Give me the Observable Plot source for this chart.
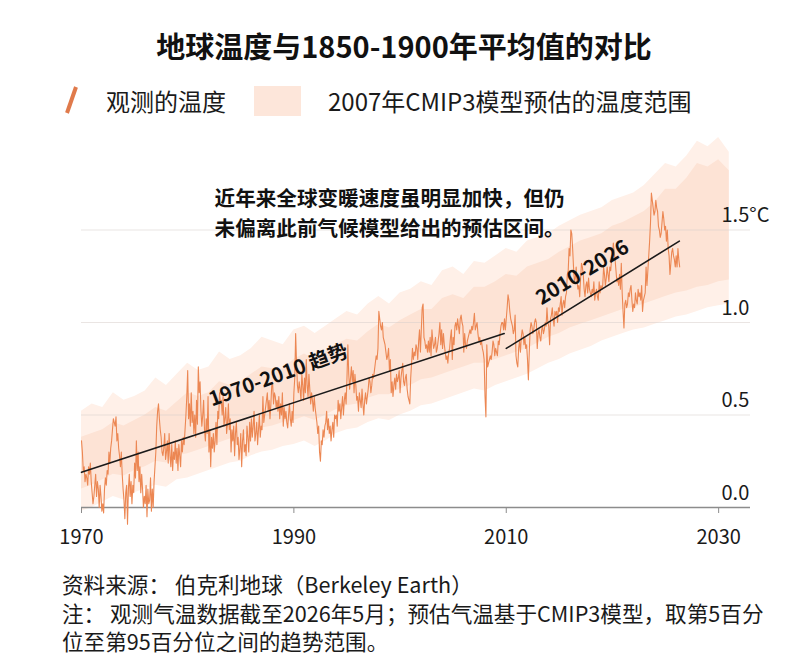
<!DOCTYPE html>
<html><head><meta charset="utf-8">
<script src="https://cdn.jsdelivr.net/npm/d3@7"></script>
<script src="https://cdn.jsdelivr.net/npm/@observablehq/plot@0.6"></script>
<style>
body{margin:0;background:#fff;font-family:"Noto Sans CJK SC","Noto Sans",sans-serif;color:#1a1a1a}
#wrap{position:relative;width:800px;height:672px;overflow:hidden;background:#fff}
#title{position:absolute;top:24px;left:0;width:808px;text-align:center;font-size:29px;font-weight:700;line-height:42px;color:#111}
.leg{position:absolute;font-size:24px;line-height:30px;top:86px;white-space:nowrap;color:#1a1a1a}
#sw{position:absolute;left:254px;top:86px;width:47px;height:30px;background:#fde6da}
#slash{position:absolute;left:62px;top:84px}
#chart{position:absolute;left:0;top:125px}
#cap{position:absolute;left:62px;top:570px;font-size:21.6px;line-height:28.5px;white-space:nowrap;color:#1a1a1a}
</style>
</head><body>
<div id="wrap">
  <div id="title">地球温度与1850-1900年平均值的对比</div>
  <svg id="slash" width="20" height="32"><line x1="5" y1="29" x2="14" y2="3" stroke="#e07a4b" stroke-width="4"/></svg>
  <div class="leg" style="left:106px">观测的温度</div>
  <div id="sw"></div>
  <div class="leg" style="left:328px">2007年CMIP3模型预估的温度范围</div>
  <div id="chart"></div>
  <div id="cap">资料来源：&nbsp;伯克利地球（Berkeley Earth）<br>注：&nbsp;观测气温数据截至2026年5月；预估气温基于CMIP3模型，取第5百分<br>位至第95百分位之间的趋势范围。</div>
</div>
<script>
// Observed monthly temperature anomaly vs 1850-1900 (°C), Jan 1970 – May 2026
const observedStart = 1970;
const observed = [
0.36,0.30,0.20,0.22,0.14,0.18,0.16,0.12,0.22,0.18,0.24,0.14, // 1970
0.08,0.02,0.06,0.12,0.18,0.06,0.14,0.10,0.00,0.12,0.06,-0.02, // 1971
0.02,-0.03,0.10,0.16,0.12,0.20,0.18,0.30,0.24,0.32,0.36,0.42, // 1972
0.48,0.46,0.44,0.49,0.36,0.40,0.32,0.28,0.22,0.30,0.18,0.10, // 1973
0.04,-0.06,0.08,0.12,-0.09,0.10,0.18,0.06,0.14,0.02,0.12,0.08, // 1974
0.24,0.16,0.36,0.20,0.30,0.14,0.22,0.08,0.18,0.10,0.00,0.06, // 1975
0.02,0.12,-0.05,0.10,0.02,0.04,0.16,-0.02,0.10,0.00,0.14,0.22, // 1976
0.30,0.44,0.52,0.56,0.48,0.42,0.38,0.30,0.28,0.32,0.40,0.26, // 1977
0.30,0.36,0.24,0.40,0.28,0.22,0.34,0.20,0.30,0.26,0.36,0.24, // 1978
0.32,0.20,0.34,0.28,0.22,0.36,0.30,0.38,0.34,0.42,0.50,0.60, // 1979
0.74,0.48,0.56,0.44,0.62,0.46,0.52,0.40,0.50,0.38,0.58,0.45, // 1980
0.76,0.62,0.68,0.52,0.44,0.50,0.58,0.42,0.36,0.48,0.40,0.60, // 1981
0.30,0.42,0.22,0.38,0.32,0.40,0.30,0.36,0.46,0.34,0.52,0.48, // 1982
0.62,0.56,0.58,0.50,0.60,0.44,0.48,0.54,0.40,0.46,0.56,0.42, // 1983
0.48,0.30,0.42,0.36,0.44,0.28,0.40,0.46,0.34,0.38,0.26,0.32, // 1984
0.40,0.22,0.36,0.42,0.30,0.34,0.28,0.44,0.38,0.30,0.46,0.36, // 1985
0.48,0.38,0.44,0.52,0.36,0.40,0.46,0.34,0.42,0.50,0.38,0.44, // 1986
0.42,0.60,0.46,0.50,0.54,0.58,0.62,0.52,0.58,0.48,0.56,0.66, // 1987
0.67,0.56,0.62,0.60,0.54,0.58,0.52,0.60,0.48,0.56,0.50,0.62, // 1988
0.44,0.54,0.48,0.52,0.46,0.43,0.50,0.56,0.48,0.44,0.52,0.46, // 1989
0.62,0.70,0.94,0.78,0.66,0.62,0.68,0.64,0.58,0.72,0.66,0.58, // 1990
0.70,0.62,0.80,0.66,0.60,0.72,0.64,0.56,0.62,0.58,0.52,0.60, // 1991
0.54,0.50,0.46,0.40,0.44,0.30,0.25,0.36,0.34,0.42,0.38,0.44, // 1992
0.46,0.52,0.42,0.48,0.40,0.44,0.36,0.42,0.46,0.38,0.50,0.48, // 1993
0.50,0.44,0.58,0.52,0.56,0.48,0.54,0.60,0.50,0.58,0.62,0.56, // 1994
0.70,0.88,0.72,0.64,0.70,0.76,0.68,0.74,0.62,0.72,0.66,0.58, // 1995
0.60,0.52,0.62,0.58,0.54,0.64,0.56,0.50,0.58,0.62,0.56,0.60, // 1996
0.64,0.70,0.68,0.62,0.66,0.72,0.70,0.74,0.78,0.82,0.80,0.86, // 1997
1.06,1.02,0.98,0.96,1.00,0.92,0.90,0.88,0.84,0.80,0.82,0.86, // 1998
0.74,0.80,0.62,0.68,0.60,0.66,0.70,0.64,0.72,0.68,0.70,0.74, // 1999
0.62,0.70,0.74,0.78,0.68,0.66,0.70,0.72,0.64,0.60,0.58,0.56, // 2000
0.70,0.78,0.86,0.80,0.84,0.82,0.88,0.86,0.80,0.90,0.96,0.84, // 2001
0.96,1.08,1.10,0.92,0.90,0.86,0.88,0.84,0.90,0.84,0.92,0.82, // 2002
0.96,0.90,0.86,0.88,0.92,0.84,0.86,0.90,0.94,1.00,0.88,0.96, // 2003
0.86,0.94,0.88,0.84,0.80,0.82,0.78,0.84,0.86,0.92,0.96,0.80, // 2004
0.92,0.88,0.98,1.00,0.96,1.02,0.98,0.94,1.02,1.04,1.00,0.98, // 2005
0.84,0.94,0.88,0.86,0.90,0.92,0.94,0.96,0.94,0.98,0.96,1.00, // 2006
1.05,0.96,0.98,1.00,0.94,0.90,0.92,0.88,0.90,0.86,0.84,0.80, // 2007
0.60,0.49,0.88,0.76,0.78,0.80,0.82,0.80,0.84,0.90,0.88,0.82, // 2008
0.86,0.84,0.82,0.90,0.88,0.94,0.98,1.00,1.00,0.96,1.02,0.96, // 2009
1.02,1.08,1.15,1.12,1.06,1.02,1.00,0.98,0.94,0.96,1.04,0.82, // 2010
0.78,0.76,0.86,0.90,0.84,0.92,0.96,0.94,0.88,0.92,0.86,0.88, // 2011
0.80,0.69,0.84,0.96,1.00,0.98,0.94,0.96,1.00,1.02,1.00,0.86, // 2012
0.94,0.96,0.92,0.90,0.96,0.98,0.94,0.96,1.00,0.98,1.08,1.00, // 2013
0.98,0.88,1.02,1.04,1.08,1.02,0.98,1.06,1.04,1.06,1.00,1.08, // 2014
1.06,1.10,1.14,1.04,1.10,1.12,1.08,1.14,1.16,1.26,1.28,1.40, // 2015
1.36,1.50,1.48,1.40,1.30,1.22,1.24,1.30,1.22,1.18,1.20,1.14, // 2016
1.24,1.32,1.30,1.26,1.18,1.14,1.20,1.22,1.16,1.24,1.18,1.16, // 2017
1.14,1.18,1.16,1.22,1.12,1.16,1.18,1.14,1.12,1.22,1.16,1.20, // 2018
1.18,1.20,1.30,1.26,1.20,1.24,1.30,1.26,1.22,1.30,1.28,1.34, // 2019
1.36,1.43,1.38,1.34,1.28,1.22,1.24,1.20,1.26,1.18,1.32,1.16, // 2020
1.06,0.97,1.10,1.12,1.08,1.10,1.16,1.14,1.18,1.20,1.12,1.06, // 2021
1.10,1.08,1.16,1.12,1.10,1.18,1.14,1.16,1.12,1.20,1.06,1.12, // 2022
1.14,1.16,1.30,1.20,1.28,1.36,1.44,1.54,1.70,1.66,1.62,1.58, // 2023
1.60,1.66,1.62,1.60,1.52,1.50,1.46,1.48,1.54,1.60,1.56,1.50, // 2024
1.52,1.44,1.50,1.40,1.36,1.26,1.32,1.38,1.40,1.36,1.34,1.30, // 2025
1.36,1.30,1.40,1.34,1.30 // 2026 (Jan–May)
];

// CMIP3 projected range (2007), yearly 1970–2031
const bandYears = [1970,1971,1972,1973,1974,1975,1976,1977,1978,1979,1980,1981,1982,1983,1984,1985,1986,1987,1988,1989,1990,1991,1992,1993,1994,1995,1996,1997,1998,1999,2000,2001,2002,2003,2004,2005,2006,2007,2008,2009,2010,2011,2012,2013,2014,2015,2016,2017,2018,2019,2020,2021,2022,2023,2024,2025,2026,2027,2028,2029,2030,2031];
const bandUpper = [0.52,0.56,0.54,0.62,0.58,0.60,0.63,0.70,0.66,0.72,0.78,0.74,0.76,0.84,0.80,0.82,0.86,0.92,0.90,0.88,0.96,0.98,0.94,0.98,1.02,1.06,1.04,1.10,1.14,1.10,1.16,1.18,1.22,1.20,1.28,1.30,1.26,1.33,1.32,1.36,1.40,1.38,1.44,1.46,1.48,1.52,1.55,1.58,1.60,1.62,1.66,1.68,1.70,1.74,1.80,1.86,1.84,1.90,1.98,1.95,2.00,1.92];
const bandLower = [-0.02,0.00,0.03,0.06,0.04,0.08,0.10,0.12,0.11,0.15,0.16,0.18,0.20,0.22,0.24,0.25,0.28,0.30,0.31,0.33,0.34,0.36,0.33,0.36,0.40,0.42,0.43,0.46,0.48,0.47,0.50,0.52,0.55,0.56,0.58,0.60,0.62,0.64,0.63,0.66,0.68,0.70,0.72,0.75,0.78,0.80,0.83,0.85,0.87,0.90,0.92,0.94,0.96,0.97,0.99,1.01,1.03,1.04,1.06,1.08,1.09,1.10];
const coreUpper = [0.38,0.40,0.42,0.46,0.44,0.47,0.50,0.54,0.52,0.57,0.62,0.60,0.62,0.68,0.66,0.68,0.72,0.76,0.75,0.75,0.80,0.83,0.80,0.84,0.88,0.91,0.90,0.95,0.99,0.97,1.01,1.04,1.07,1.07,1.13,1.15,1.13,1.19,1.19,1.22,1.26,1.25,1.30,1.32,1.34,1.38,1.41,1.44,1.46,1.48,1.52,1.54,1.57,1.60,1.65,1.72,1.72,1.78,1.86,1.84,1.88,1.82];
const coreLower = [0.10,0.12,0.15,0.18,0.17,0.20,0.22,0.25,0.24,0.28,0.29,0.31,0.33,0.35,0.37,0.38,0.41,0.43,0.44,0.46,0.47,0.49,0.47,0.50,0.53,0.55,0.56,0.59,0.61,0.61,0.64,0.66,0.69,0.70,0.72,0.74,0.76,0.78,0.78,0.80,0.82,0.84,0.86,0.89,0.92,0.94,0.97,0.99,1.01,1.03,1.05,1.07,1.08,1.10,1.12,1.14,1.16,1.17,1.19,1.20,1.22,1.23];

// Linear trends (start/end years and values)
const trendYears1970 = [1970, 2009.8];
const trendValues1970 = [0.19, 0.94];
const trendYears2010 = [2010.0, 2026.3];
const trendValues2010 = [0.86, 1.44];

const xTicks = [1970, 1990, 2010, 2030];
const yTicks = [0, 0.5, 1.0, 1.5];
const yTickLabels = ["0.0", "0.5", "1.0", "1.5°C"];

const obsRows = observed.map((v, i) => ({t: observedStart + i / 12, v}));
const band = bandYears.map((year, i) => ({year, lo: bandLower[i], hi: bandUpper[i], clo: coreLower[i], chi: coreUpper[i]}));
const trend1 = trendYears1970.map((year, i) => ({year, value: trendValues1970[i]}));
const trend2 = trendYears2010.map((year, i) => ({year, value: trendValues2010[i]}));

const font = '"Noto Sans CJK SC","Noto Sans",sans-serif';
const chart = Plot.plot({
  width: 800, height: 435,
  marginLeft: 81, marginRight: 50, marginTop: 2.75, marginBottom: 53,
  x: {domain: [1970, 2033], axis: null},
  y: {domain: [0, 2.05], axis: null},
  style: {fontFamily: font, background: "transparent", color: "#1a1a1a", overflow: "visible"},
  marks: [
    Plot.areaY(band, {x: "year", y1: "lo", y2: "hi", fill: "#fff0e8"}),
    Plot.areaY(band, {x: "year", y1: "clo", y2: "chi", fill: "#fde3d5"}),
    Plot.gridY(yTicks.slice(1), {stroke: "#d8d0cc", strokeOpacity: 0.55, strokeWidth: 1}),
    Plot.ruleY([0], {stroke: "#8c8c8c", strokeWidth: 1.5}),
    Plot.axisX({ticks: xTicks, tickFormat: d => String(d), tickSize: 6, tickPadding: 16, fontSize: 20, stroke: "#8c8c8c", label: null}),
    Plot.axisY({ticks: yTicks, anchor: "right", tickSize: 0, tickPadding: 0, dx: -29, dy: -14, textAnchor: "start", fontSize: 20, tickFormat: d => yTickLabels[yTicks.indexOf(d)], label: null}),
    Plot.lineY(obsRows, {x: "t", y: "v", stroke: "#ec8753", strokeWidth: 1.1}),
    Plot.line(trend1, {x: "year", y: "value", stroke: "#1a1a1a", strokeWidth: 1.6}),
    Plot.line(trend2, {x: "year", y: "value", stroke: "#1a1a1a", strokeWidth: 1.6}),
    Plot.text([{x: 1988.55, y: 0.714, s: "1970-2010 趋势"}], {x: "x", y: "y", text: "s", rotate: -20, fontSize: 20, fontWeight: 700, fill: "#111"}),
    Plot.text([{x: 2017.19, y: 1.27, s: "2010-2026"}], {x: "x", y: "y", text: "s", rotate: -31.5, fontSize: 20.5, fontWeight: 700, fill: "#111"}),
    Plot.text([{x: 1982.53, y: 1.60, s: "近年来全球变暖速度虽明显加快，但仍\n未偏离此前气候模型给出的预估区间。"}], {x: "x", y: "y", text: "s", textAnchor: "start", lineAnchor: "middle", lineHeight: 1.47, fontSize: 20.6, fontWeight: 700, fill: "#111"})
  ]
});
document.getElementById("chart").appendChild(chart);
</script>
</body></html>
